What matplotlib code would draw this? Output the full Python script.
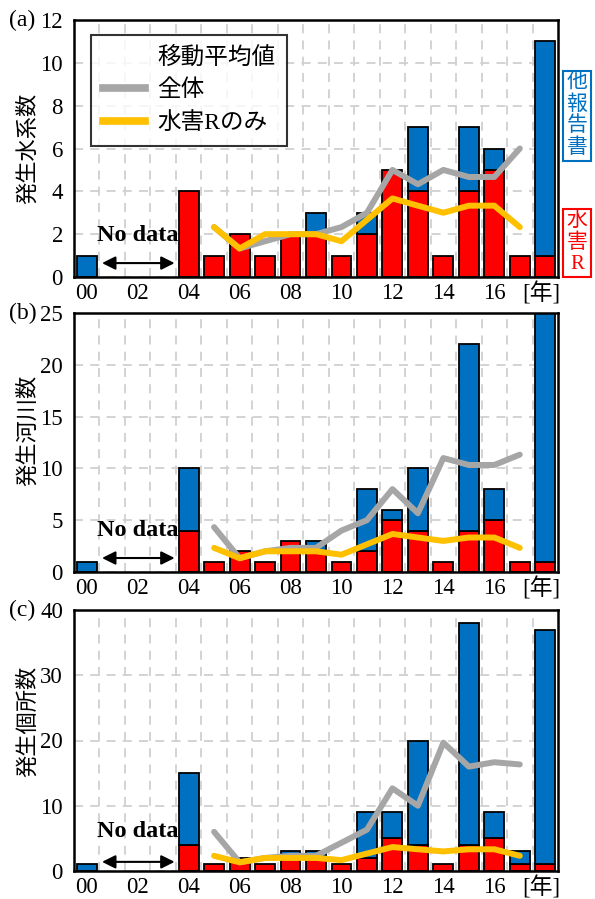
import matplotlib
matplotlib.use('Agg')
import matplotlib.pyplot as plt
from matplotlib.lines import Line2D

plt.rcParams['font.family'] = ['Liberation Serif', 'Noto Sans CJK JP']

years = list(range(2000, 2019))
xtick_pos = [2000, 2002, 2004, 2006, 2008, 2010, 2012, 2014, 2016, 2017.85]
xtick_labels = ['00', '02', '04', '06', '08', '10', '12', '14', '16', '[年]']

# (a) number of river systems
total_a = [1, 0, 0, 0, 4, 1, 2, 1, 2, 3, 1, 3, 5, 7, 1, 7, 6, 1, 11]
red_a   = [0, 0, 0, 0, 4, 1, 2, 1, 2, 2, 1, 2, 5, 4, 1, 4, 5, 1, 1]
# (b) number of rivers
total_b = [1, 0, 0, 0, 10, 1, 2, 1, 3, 3, 1, 8, 6, 10, 1, 22, 8, 1, 25]
red_b   = [0, 0, 0, 0, 4, 1, 2, 1, 3, 2, 1, 2, 5, 4, 1, 4, 5, 1, 1]
# (c) number of locations
total_c = [1, 0, 0, 0, 15, 1, 2, 1, 3, 3, 1, 9, 9, 20, 1, 38, 9, 3, 37]
red_c   = [0, 0, 0, 0, 4, 1, 2, 1, 2, 2, 1, 2, 5, 4, 1, 4, 5, 1, 1]

ma_years = list(range(2005, 2018))
ma_all_a = [2.33, 1.33, 1.67, 2.0, 2.0, 2.33, 3.0, 5.0, 4.33, 5.0, 4.67, 4.67, 6.0]
ma_r_a   = [2.33, 1.33, 2.0, 2.0, 2.0, 1.67, 2.67, 3.67, 3.33, 3.0, 3.33, 3.33, 2.33]
ma_all_b = [4.33, 1.33, 2.0, 2.33, 2.33, 4.0, 5.0, 8.0, 5.67, 11.0, 10.33, 10.33, 11.33]
ma_r_b   = [2.33, 1.33, 2.0, 2.0, 2.0, 1.67, 2.67, 3.67, 3.33, 3.0, 3.33, 3.33, 2.33]
ma_all_c = [6.0, 1.33, 2.0, 2.33, 2.33, 4.33, 6.33, 12.67, 10.0, 19.67, 16.0, 16.67, 16.33]
ma_r_c   = [2.33, 1.33, 2.0, 2.0, 2.0, 1.67, 2.67, 3.67, 3.33, 3.0, 3.33, 3.33, 2.33]

ylabels = ['発生水系数', '発生河川数', '発生個所数']
panel_labels = ['(a)', '(b)', '(c)']
ylims = [12, 25, 40]
ystep = [2, 5, 10]

BLUE = '#0070C0'
RED = '#FF0000'
GRAY = '#A6A6A6'
YELLOW = '#FFC000'

fig = plt.figure(figsize=(5.95, 8.99), dpi=100)
W, H = 595, 899
boxes = [(20, 277), (313, 572), (610, 871)]
left, right = 74, 558

panels = [
    (total_a, red_a, ma_all_a, ma_r_a, 0.65, 1.96),
    (total_b, red_b, ma_all_b, ma_r_b, 1.35, 4.05),
    (total_c, red_c, ma_all_c, ma_r_c, 1.4, 6.0),
]
label_y = [0.5, 0.545, 0.575]

for i, (tot, red, mall, mr, arr_y, txt_y) in enumerate(panels):
    top, bot = boxes[i]
    ax = fig.add_axes([left / W, 1 - bot / H, (right - left) / W, (bot - top) / H])
    ax.set_xlim(1999.5, 2018.5)
    ax.set_ylim(0, ylims[i])
    ax.set_yticks(list(range(0, ylims[i] + 1, ystep[i])))
    ax.set_xticks(xtick_pos)
    ax.set_xticklabels(xtick_labels)
    ax.set_xticks([y + 0.5 for y in years[:-1]], minor=True)
    ax.tick_params(axis='both', which='both', length=0, labelsize=16.5)
    ax.tick_params(axis='y', pad=8)
    ax.tick_params(axis='x', pad=4)
    ax.grid(True, axis='x', which='minor', color='#D0D0D0', linestyle=(0, (5, 4)), lw=1.3)
    ax.grid(True, axis='y', which='major', color='#D0D0D0', linestyle=(0, (5, 4)), lw=1.3)
    ax.set_axisbelow(True)
    for s in ax.spines.values():
        s.set_linewidth(1.8)

    for y, t, r in zip(years, tot, red):
        if r > 0:
            ax.bar(y, r, width=0.78, color=RED, edgecolor='black', lw=1.3, zorder=2)
        if t - r > 0:
            ax.bar(y, t - r, bottom=r, width=0.78, color=BLUE, edgecolor='black', lw=1.3, zorder=2)

    ax.plot(ma_years, mall, color=GRAY, lw=4.3, zorder=3, solid_capstyle='round')
    ax.plot(ma_years, mr, color=YELLOW, lw=4.3, zorder=4, solid_capstyle='round')

    ax.annotate('', xy=(2000.6, arr_y), xytext=(2003.45, arr_y),
                arrowprops=dict(arrowstyle='<|-|>', color='black', lw=1.5,
                                mutation_scale=20, shrinkA=0, shrinkB=0))
    ax.text(2002.0, txt_y, 'No data', fontsize=17.5, fontweight='bold',
            ha='center', va='center')

    ax.set_ylabel(ylabels[i], fontsize=16)
    ax.yaxis.set_label_coords(-0.072, label_y[i])

    fig.text(9 / W, 1 - top / H, panel_labels[i], fontsize=17, ha='left', va='center')

    if i == 0:
        handles = [Line2D([], [], color='none'),
                   Line2D([], [], color=GRAY, lw=5.5),
                   Line2D([], [], color=YELLOW, lw=5.5)]
        leg = ax.legend(handles, ['移動平均値', '全体', '水害Rのみ'],
                        loc='upper left', bbox_to_anchor=(0.035, 0.942),
                        fontsize=17, frameon=True, fancybox=False,
                        edgecolor='black', handlelength=1.8, handletextpad=0.5,
                        labelspacing=0.45, borderpad=0.5, borderaxespad=0)
        leg.get_frame().set_linewidth(1.5)
        leg.set_zorder(10)

fig.text(577 / W, 1 - 116 / H, '他\n報\n告\n書', color=BLUE, fontsize=15,
         ha='center', va='center', linespacing=1.15,
         bbox=dict(boxstyle='square,pad=0.15', fc='white', ec=BLUE, lw=1.5))
fig.text(577 / W, 1 - 243 / H, '水\n害\nR', color=RED, fontsize=15,
         ha='center', va='center', linespacing=1.15,
         bbox=dict(boxstyle='square,pad=0.15', fc='white', ec=RED, lw=1.5))

fig.savefig('out.png', dpi=100)
